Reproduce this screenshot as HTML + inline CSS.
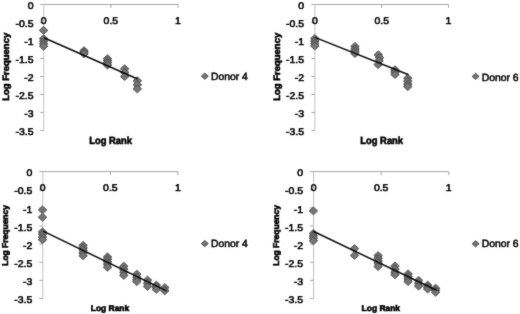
<!DOCTYPE html>
<html lang="en">
<head>
<meta charset="utf-8">
<title>Log Frequency vs Log Rank</title>
<style>
html,body{margin:0;padding:0;background:#fff;}
body{width:520px;height:314px;overflow:hidden;}
svg{display:block;font-family:"Liberation Sans", sans-serif;}
</style>
</head>
<body>
<svg width="520" height="314" viewBox="0 0 520 314">
<defs><filter id="soft" x="0" y="0" width="520" height="314" filterUnits="userSpaceOnUse" color-interpolation-filters="sRGB"><feConvolveMatrix order="3" kernelMatrix="1 7 1 7 49 7 1 7 1" edgeMode="duplicate" preserveAlpha="true"/></filter></defs>
<g filter="url(#soft)">
<rect width="520" height="314" fill="#ffffff"/>
<g stroke="#a6a6a6" stroke-width="1" fill="none">
<path d="M40.25 4.50H178.00"/>
<path d="M43.75 4.50V130.50" stroke="#c4c4c4"/>
<path d="M40.25 22.50H43.75"/>
<path d="M40.25 40.50H43.75"/>
<path d="M40.25 58.50H43.75"/>
<path d="M40.25 76.50H43.75"/>
<path d="M40.25 94.50H43.75"/>
<path d="M40.25 112.50H43.75"/>
<path d="M40.25 130.50H43.75"/>
<path d="M110.88 4.50v3.5"/>
<path d="M178.00 4.50v3.5"/>
</g>
<g font-size="9.7" style="text-rendering:geometricPrecision" fill="#000000" stroke="#000000" stroke-width="0.55" text-anchor="end">
<text transform="translate(33.50 8.75) scale(1.08 1)">0</text>
<text transform="translate(33.50 27.25) scale(1.08 1)">-0.5</text>
<text transform="translate(33.50 45.25) scale(1.08 1)">-1</text>
<text transform="translate(33.50 63.25) scale(1.08 1)">-1.5</text>
<text transform="translate(33.50 81.25) scale(1.08 1)">-2</text>
<text transform="translate(33.50 99.25) scale(1.08 1)">-2.5</text>
<text transform="translate(33.50 117.25) scale(1.08 1)">-3</text>
<text transform="translate(33.50 135.25) scale(1.08 1)">-3.5</text>
</g>
<g font-size="9.7" style="text-rendering:geometricPrecision" fill="#000000" stroke="#000000" stroke-width="0.55" text-anchor="middle">
<text transform="translate(43.75 23.80) scale(1.08 1)">0</text>
<text transform="translate(110.88 23.80) scale(1.08 1)">0.5</text>
<text transform="translate(178.00 23.80) scale(1.08 1)">1</text>
</g>
<g fill="#767676" stroke="#444444" stroke-width="0.9" stroke-linejoin="round">
<path d="M43.60 26.45L47.85 30.40L43.60 34.35L39.35 30.40Z"/>
<path d="M43.60 34.75L47.85 38.70L43.60 42.65L39.35 38.70Z"/>
<path d="M43.60 37.25L47.85 41.20L43.60 45.15L39.35 41.20Z"/>
<path d="M43.60 39.75L47.85 43.70L43.60 47.65L39.35 43.70Z"/>
<path d="M43.60 42.25L47.85 46.20L43.60 50.15L39.35 46.20Z"/>
<path d="M84.00 46.75L88.25 50.70L84.00 54.65L79.75 50.70Z"/>
<path d="M84.00 48.25L88.25 52.20L84.00 56.15L79.75 52.20Z"/>
<path d="M84.00 49.85L88.25 53.80L84.00 57.75L79.75 53.80Z"/>
<path d="M107.50 54.75L111.75 58.70L107.50 62.65L103.25 58.70Z"/>
<path d="M107.50 56.75L111.75 60.70L107.50 64.65L103.25 60.70Z"/>
<path d="M107.50 58.75L111.75 62.70L107.50 66.65L103.25 62.70Z"/>
<path d="M107.50 61.05L111.75 65.00L107.50 68.95L103.25 65.00Z"/>
<path d="M124.70 64.85L128.95 68.80L124.70 72.75L120.45 68.80Z"/>
<path d="M124.70 68.55L128.95 72.50L124.70 76.45L120.45 72.50Z"/>
<path d="M124.70 72.55L128.95 76.50L124.70 80.45L120.45 76.50Z"/>
<path d="M137.30 76.85L141.55 80.80L137.30 84.75L133.05 80.80Z"/>
<path d="M137.30 80.85L141.55 84.80L137.30 88.75L133.05 84.80Z"/>
<path d="M137.30 84.95L141.55 88.90L137.30 92.85L133.05 88.90Z"/>
</g>
<path d="M44.50 38.00L137.00 78.70" stroke="#0c0c0c" stroke-width="1.5" stroke-linecap="round" fill="none"/>
<g fill="#767676" stroke="#444444" stroke-width="0.9" stroke-linejoin="round"><path d="M204.80 73.10L208.30 76.20L204.80 79.30L201.30 76.20Z"/></g>
<text x="210.90" y="80.40" style="text-rendering:geometricPrecision" font-size="10.4" fill="#000000" stroke="#000000" stroke-width="0.5">Donor 4</text>
<text transform="translate(9.00 100.80) rotate(-90)" style="text-rendering:geometricPrecision" font-size="9.3" font-weight="bold" fill="#000000" stroke="#000000" stroke-width="0.6" textLength="68" lengthAdjust="spacingAndGlyphs">Log Frequency</text>
<text x="89.20" y="143.80" style="text-rendering:geometricPrecision" font-size="10.3" font-weight="bold" fill="#000000" stroke="#000000" stroke-width="0.6" textLength="42.8" lengthAdjust="spacingAndGlyphs">Log Rank</text>
<g stroke="#a6a6a6" stroke-width="1" fill="none">
<path d="M311.40 4.50H448.50"/>
<path d="M314.90 4.50V130.50" stroke="#c4c4c4"/>
<path d="M311.40 22.50H314.90"/>
<path d="M311.40 40.50H314.90"/>
<path d="M311.40 58.50H314.90"/>
<path d="M311.40 76.50H314.90"/>
<path d="M311.40 94.50H314.90"/>
<path d="M311.40 112.50H314.90"/>
<path d="M311.40 130.50H314.90"/>
<path d="M381.70 4.50v3.5"/>
<path d="M448.50 4.50v3.5"/>
</g>
<g font-size="9.7" style="text-rendering:geometricPrecision" fill="#000000" stroke="#000000" stroke-width="0.55" text-anchor="end">
<text transform="translate(304.10 8.75) scale(1.08 1)">0</text>
<text transform="translate(304.10 27.25) scale(1.08 1)">-0.5</text>
<text transform="translate(304.10 45.25) scale(1.08 1)">-1</text>
<text transform="translate(304.10 63.25) scale(1.08 1)">-1.5</text>
<text transform="translate(304.10 81.25) scale(1.08 1)">-2</text>
<text transform="translate(304.10 99.25) scale(1.08 1)">-2.5</text>
<text transform="translate(304.10 117.25) scale(1.08 1)">-3</text>
<text transform="translate(304.10 135.25) scale(1.08 1)">-3.5</text>
</g>
<g font-size="9.7" style="text-rendering:geometricPrecision" fill="#000000" stroke="#000000" stroke-width="0.55" text-anchor="middle">
<text transform="translate(314.90 23.90) scale(1.08 1)">0</text>
<text transform="translate(381.70 23.90) scale(1.08 1)">0.5</text>
<text transform="translate(448.50 23.90) scale(1.08 1)">1</text>
</g>
<g fill="#767676" stroke="#444444" stroke-width="0.9" stroke-linejoin="round">
<path d="M314.80 34.55L319.05 38.50L314.80 42.45L310.55 38.50Z"/>
<path d="M314.80 37.05L319.05 41.00L314.80 44.95L310.55 41.00Z"/>
<path d="M314.80 39.55L319.05 43.50L314.80 47.45L310.55 43.50Z"/>
<path d="M314.80 41.95L319.05 45.90L314.80 49.85L310.55 45.90Z"/>
<path d="M355.00 42.45L359.25 46.40L355.00 50.35L350.75 46.40Z"/>
<path d="M355.00 44.95L359.25 48.90L355.00 52.85L350.75 48.90Z"/>
<path d="M355.00 47.25L359.25 51.20L355.00 55.15L350.75 51.20Z"/>
<path d="M355.00 49.55L359.25 53.50L355.00 57.45L350.75 53.50Z"/>
<path d="M378.30 50.85L382.55 54.80L378.30 58.75L374.05 54.80Z"/>
<path d="M379.50 53.75L383.75 57.70L379.50 61.65L375.25 57.70Z"/>
<path d="M379.10 56.75L383.35 60.70L379.10 64.65L374.85 60.70Z"/>
<path d="M378.10 60.65L382.35 64.60L378.10 68.55L373.85 64.60Z"/>
<path d="M395.00 65.85L399.25 69.80L395.00 73.75L390.75 69.80Z"/>
<path d="M395.00 68.25L399.25 72.20L395.00 76.15L390.75 72.20Z"/>
<path d="M395.00 70.55L399.25 74.50L395.00 78.45L390.75 74.50Z"/>
<path d="M407.80 74.25L412.05 78.20L407.80 82.15L403.55 78.20Z"/>
<path d="M407.80 77.25L412.05 81.20L407.80 85.15L403.55 81.20Z"/>
<path d="M407.80 80.25L412.05 84.20L407.80 88.15L403.55 84.20Z"/>
<path d="M407.80 82.65L412.05 86.60L407.80 90.55L403.55 86.60Z"/>
</g>
<path d="M315.50 37.60L408.00 74.50" stroke="#0c0c0c" stroke-width="1.5" stroke-linecap="round" fill="none"/>
<g fill="#767676" stroke="#444444" stroke-width="0.9" stroke-linejoin="round"><path d="M475.60 73.30L479.10 76.40L475.60 79.50L472.10 76.40Z"/></g>
<text x="481.70" y="80.60" style="text-rendering:geometricPrecision" font-size="10.4" fill="#000000" stroke="#000000" stroke-width="0.5">Donor 6</text>
<text transform="translate(279.80 100.80) rotate(-90)" style="text-rendering:geometricPrecision" font-size="9.3" font-weight="bold" fill="#000000" stroke="#000000" stroke-width="0.6" textLength="68" lengthAdjust="spacingAndGlyphs">Log Frequency</text>
<text x="360.30" y="143.80" style="text-rendering:geometricPrecision" font-size="10.3" font-weight="bold" fill="#000000" stroke="#000000" stroke-width="0.6" textLength="42.8" lengthAdjust="spacingAndGlyphs">Log Rank</text>
<g stroke="#a6a6a6" stroke-width="1" fill="none">
<path d="M39.25 171.60H177.95"/>
<path d="M42.75 171.60V298.48" stroke="#c4c4c4"/>
<path d="M39.25 189.72H42.75"/>
<path d="M39.25 207.85H42.75"/>
<path d="M39.25 225.97H42.75"/>
<path d="M39.25 244.10H42.75"/>
<path d="M39.25 262.23H42.75"/>
<path d="M39.25 280.35H42.75"/>
<path d="M39.25 298.48H42.75"/>
<path d="M110.35 171.60v3.5"/>
<path d="M177.95 171.60v3.5"/>
</g>
<g font-size="9.7" style="text-rendering:geometricPrecision" fill="#000000" stroke="#000000" stroke-width="0.55" text-anchor="end">
<text transform="translate(32.30 175.85) scale(1.08 1)">0</text>
<text transform="translate(32.30 194.47) scale(1.08 1)">-0.5</text>
<text transform="translate(32.30 212.60) scale(1.08 1)">-1</text>
<text transform="translate(32.30 230.72) scale(1.08 1)">-1.5</text>
<text transform="translate(32.30 248.85) scale(1.08 1)">-2</text>
<text transform="translate(32.30 266.98) scale(1.08 1)">-2.5</text>
<text transform="translate(32.30 285.10) scale(1.08 1)">-3</text>
<text transform="translate(32.30 303.23) scale(1.08 1)">-3.5</text>
</g>
<g font-size="9.7" style="text-rendering:geometricPrecision" fill="#000000" stroke="#000000" stroke-width="0.55" text-anchor="middle">
<text transform="translate(42.75 191.40) scale(1.08 1)">0</text>
<text transform="translate(110.35 191.40) scale(1.08 1)">0.5</text>
<text transform="translate(177.95 191.40) scale(1.08 1)">1</text>
</g>
<g fill="#767676" stroke="#444444" stroke-width="0.9" stroke-linejoin="round">
<path d="M42.50 205.95L46.75 209.90L42.50 213.85L38.25 209.90Z"/>
<path d="M42.50 213.25L46.75 217.20L42.50 221.15L38.25 217.20Z"/>
<path d="M42.50 227.95L46.75 231.90L42.50 235.85L38.25 231.90Z"/>
<path d="M42.50 230.25L46.75 234.20L42.50 238.15L38.25 234.20Z"/>
<path d="M42.50 232.95L46.75 236.90L42.50 240.85L38.25 236.90Z"/>
<path d="M42.50 235.75L46.75 239.70L42.50 243.65L38.25 239.70Z"/>
<path d="M83.10 241.45L87.35 245.40L83.10 249.35L78.85 245.40Z"/>
<path d="M83.10 243.95L87.35 247.90L83.10 251.85L78.85 247.90Z"/>
<path d="M83.10 246.25L87.35 250.20L83.10 254.15L78.85 250.20Z"/>
<path d="M83.10 248.95L87.35 252.90L83.10 256.85L78.85 252.90Z"/>
<path d="M83.10 251.75L87.35 255.70L83.10 259.65L78.85 255.70Z"/>
<path d="M107.50 252.95L111.75 256.90L107.50 260.85L103.25 256.90Z"/>
<path d="M107.50 255.25L111.75 259.20L107.50 263.15L103.25 259.20Z"/>
<path d="M107.50 257.75L111.75 261.70L107.50 265.65L103.25 261.70Z"/>
<path d="M107.50 260.25L111.75 264.20L107.50 268.15L103.25 264.20Z"/>
<path d="M107.50 263.25L111.75 267.20L107.50 271.15L103.25 267.20Z"/>
<path d="M123.80 262.35L128.05 266.30L123.80 270.25L119.55 266.30Z"/>
<path d="M123.80 265.25L128.05 269.20L123.80 273.15L119.55 269.20Z"/>
<path d="M123.80 268.25L128.05 272.20L123.80 276.15L119.55 272.20Z"/>
<path d="M123.80 271.45L128.05 275.40L123.80 279.35L119.55 275.40Z"/>
<path d="M136.80 270.25L141.05 274.20L136.80 278.15L132.55 274.20Z"/>
<path d="M136.80 273.25L141.05 277.20L136.80 281.15L132.55 277.20Z"/>
<path d="M136.80 275.75L141.05 279.70L136.80 283.65L132.55 279.70Z"/>
<path d="M136.80 277.65L141.05 281.60L136.80 285.55L132.55 281.60Z"/>
<path d="M147.50 276.15L151.75 280.10L147.50 284.05L143.25 280.10Z"/>
<path d="M147.50 279.25L151.75 283.20L147.50 287.15L143.25 283.20Z"/>
<path d="M147.50 282.45L151.75 286.40L147.50 290.35L143.25 286.40Z"/>
<path d="M156.30 281.15L160.55 285.10L156.30 289.05L152.05 285.10Z"/>
<path d="M156.30 283.25L160.55 287.20L156.30 291.15L152.05 287.20Z"/>
<path d="M156.30 285.45L160.55 289.40L156.30 293.35L152.05 289.40Z"/>
<path d="M164.80 283.65L169.05 287.60L164.80 291.55L160.55 287.60Z"/>
<path d="M164.80 286.85L169.05 290.80L164.80 294.75L160.55 290.80Z"/>
</g>
<path d="M43.70 231.30L166.00 290.70" stroke="#0c0c0c" stroke-width="1.5" stroke-linecap="round" fill="none"/>
<g fill="#767676" stroke="#444444" stroke-width="0.9" stroke-linejoin="round"><path d="M204.80 240.50L208.30 243.60L204.80 246.70L201.30 243.60Z"/></g>
<text x="210.90" y="247.20" style="text-rendering:geometricPrecision" font-size="10.4" fill="#000000" stroke="#000000" stroke-width="0.5">Donor 4</text>
<text transform="translate(7.70 265.80) rotate(-90)" style="text-rendering:geometricPrecision" font-size="8.5" font-weight="bold" fill="#000000" stroke="#000000" stroke-width="0.6" textLength="60.8" lengthAdjust="spacingAndGlyphs">Log Frequency</text>
<text x="90.80" y="311.20" style="text-rendering:geometricPrecision" font-size="8.4" font-weight="bold" fill="#000000" stroke="#000000" stroke-width="0.6" textLength="38.4" lengthAdjust="spacingAndGlyphs">Log Rank</text>
<g stroke="#a6a6a6" stroke-width="1" fill="none">
<path d="M310.05 171.60H448.75"/>
<path d="M313.55 171.60V298.48" stroke="#c4c4c4"/>
<path d="M310.05 189.72H313.55"/>
<path d="M310.05 207.85H313.55"/>
<path d="M310.05 225.97H313.55"/>
<path d="M310.05 244.10H313.55"/>
<path d="M310.05 262.23H313.55"/>
<path d="M310.05 280.35H313.55"/>
<path d="M310.05 298.48H313.55"/>
<path d="M381.15 171.60v3.5"/>
<path d="M448.75 171.60v3.5"/>
</g>
<g font-size="9.7" style="text-rendering:geometricPrecision" fill="#000000" stroke="#000000" stroke-width="0.55" text-anchor="end">
<text transform="translate(303.10 175.85) scale(1.08 1)">0</text>
<text transform="translate(303.10 194.47) scale(1.08 1)">-0.5</text>
<text transform="translate(303.10 212.60) scale(1.08 1)">-1</text>
<text transform="translate(303.10 230.72) scale(1.08 1)">-1.5</text>
<text transform="translate(303.10 248.85) scale(1.08 1)">-2</text>
<text transform="translate(303.10 266.98) scale(1.08 1)">-2.5</text>
<text transform="translate(303.10 285.10) scale(1.08 1)">-3</text>
<text transform="translate(303.10 303.23) scale(1.08 1)">-3.5</text>
</g>
<g font-size="9.7" style="text-rendering:geometricPrecision" fill="#000000" stroke="#000000" stroke-width="0.55" text-anchor="middle">
<text transform="translate(313.55 191.40) scale(1.08 1)">0</text>
<text transform="translate(381.15 191.40) scale(1.08 1)">0.5</text>
<text transform="translate(448.75 191.40) scale(1.08 1)">1</text>
</g>
<g fill="#767676" stroke="#444444" stroke-width="0.9" stroke-linejoin="round">
<path d="M313.40 206.95L317.65 210.90L313.40 214.85L309.15 210.90Z"/>
<path d="M313.40 229.45L317.65 233.40L313.40 237.35L309.15 233.40Z"/>
<path d="M313.40 231.85L317.65 235.80L313.40 239.75L309.15 235.80Z"/>
<path d="M313.40 234.25L317.65 238.20L313.40 242.15L309.15 238.20Z"/>
<path d="M313.40 236.75L317.65 240.70L313.40 244.65L309.15 240.70Z"/>
<path d="M354.50 244.65L358.75 248.60L354.50 252.55L350.25 248.60Z"/>
<path d="M354.50 251.45L358.75 255.40L354.50 259.35L350.25 255.40Z"/>
<path d="M378.10 251.65L382.35 255.60L378.10 259.55L373.85 255.60Z"/>
<path d="M378.10 254.25L382.35 258.20L378.10 262.15L373.85 258.20Z"/>
<path d="M378.10 256.75L382.35 260.70L378.10 264.65L373.85 260.70Z"/>
<path d="M378.10 259.25L382.35 263.20L378.10 267.15L373.85 263.20Z"/>
<path d="M378.10 262.55L382.35 266.50L378.10 270.45L373.85 266.50Z"/>
<path d="M395.00 262.05L399.25 266.00L395.00 269.95L390.75 266.00Z"/>
<path d="M395.00 265.25L399.25 269.20L395.00 273.15L390.75 269.20Z"/>
<path d="M395.00 268.25L399.25 272.20L395.00 276.15L390.75 272.20Z"/>
<path d="M395.00 270.75L399.25 274.70L395.00 278.65L390.75 274.70Z"/>
<path d="M408.10 269.95L412.35 273.90L408.10 277.85L403.85 273.90Z"/>
<path d="M408.10 272.75L412.35 276.70L408.10 280.65L403.85 276.70Z"/>
<path d="M408.10 275.25L412.35 279.20L408.10 283.15L403.85 279.20Z"/>
<path d="M408.10 277.55L412.35 281.50L408.10 285.45L403.85 281.50Z"/>
<path d="M418.60 276.45L422.85 280.40L418.60 284.35L414.35 280.40Z"/>
<path d="M418.60 279.25L422.85 283.20L418.60 287.15L414.35 283.20Z"/>
<path d="M418.60 282.05L422.85 286.00L418.60 289.95L414.35 286.00Z"/>
<path d="M427.70 281.15L431.95 285.10L427.70 289.05L423.45 285.10Z"/>
<path d="M427.70 283.25L431.95 287.20L427.70 291.15L423.45 287.20Z"/>
<path d="M427.70 285.05L431.95 289.00L427.70 292.95L423.45 289.00Z"/>
<path d="M435.60 284.25L439.85 288.20L435.60 292.15L431.35 288.20Z"/>
<path d="M435.60 286.25L439.85 290.20L435.60 294.15L431.35 290.20Z"/>
<path d="M435.60 288.25L439.85 292.20L435.60 296.15L431.35 292.20Z"/>
</g>
<path d="M313.75 231.50L436.50 290.30" stroke="#0c0c0c" stroke-width="1.5" stroke-linecap="round" fill="none"/>
<g fill="#767676" stroke="#444444" stroke-width="0.9" stroke-linejoin="round"><path d="M475.60 240.70L479.10 243.80L475.60 246.90L472.10 243.80Z"/></g>
<text x="481.70" y="247.20" style="text-rendering:geometricPrecision" font-size="10.4" fill="#000000" stroke="#000000" stroke-width="0.5">Donor 6</text>
<text transform="translate(278.50 265.80) rotate(-90)" style="text-rendering:geometricPrecision" font-size="8.5" font-weight="bold" fill="#000000" stroke="#000000" stroke-width="0.6" textLength="60.8" lengthAdjust="spacingAndGlyphs">Log Frequency</text>
<text x="361.60" y="311.20" style="text-rendering:geometricPrecision" font-size="8.4" font-weight="bold" fill="#000000" stroke="#000000" stroke-width="0.6" textLength="38.4" lengthAdjust="spacingAndGlyphs">Log Rank</text>
</g>
</svg>
</body>
</html>
